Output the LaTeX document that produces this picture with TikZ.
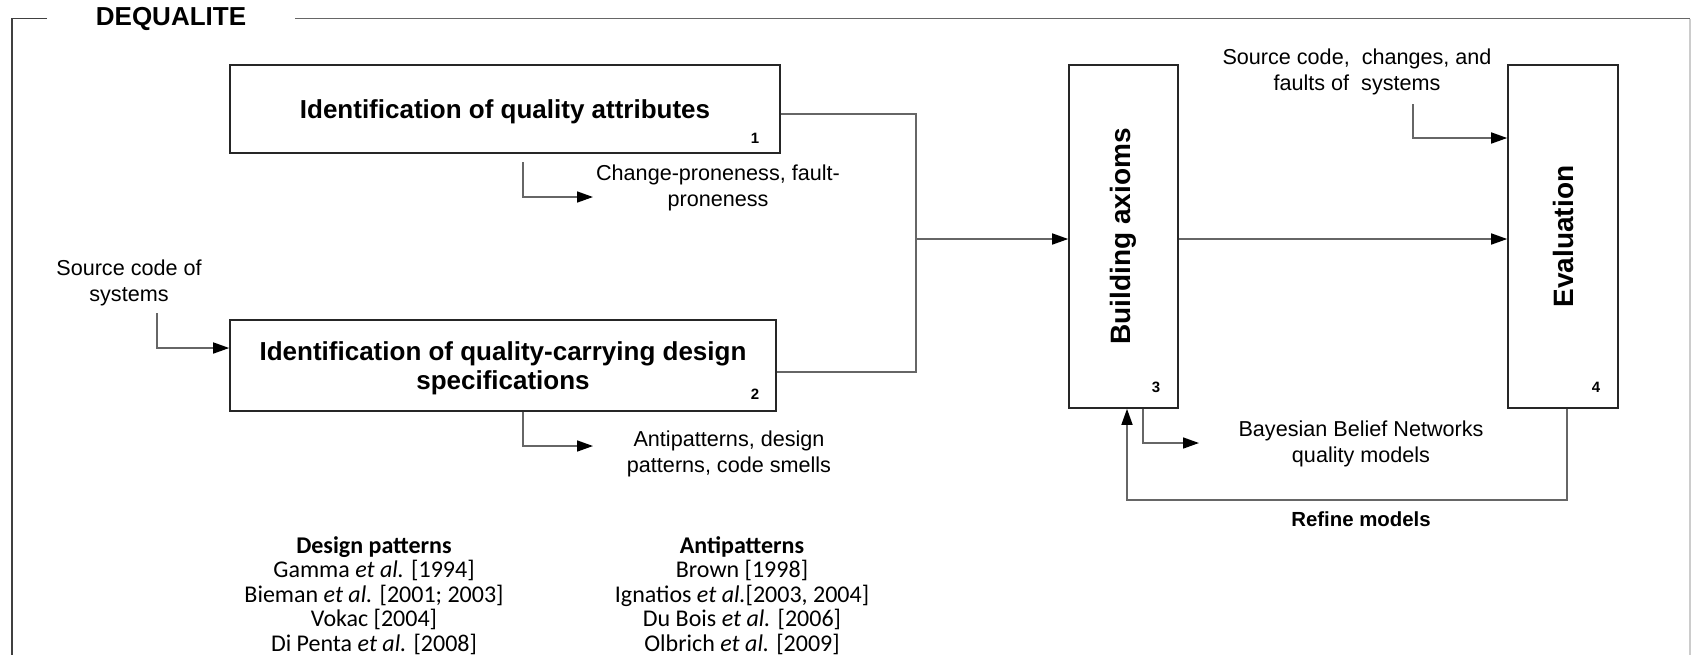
\documentclass[tikz,border=0pt]{standalone}
\usepackage{fontspec}
\setmainfont[Ligatures=NoCommon]{Liberation Sans}
\newfontfamily\calibri{Carlito}
\usetikzlibrary{arrows.meta}
\tikzset{
  box/.style={draw=black!85, line width=0.8pt, inner sep=0pt, align=center},
  boxtext/.style={font=\fontsize{13}{14.5}\selectfont\bfseries, align=center, inner sep=0pt},
  vtext/.style={font=\fontsize{14}{16}\selectfont\bfseries, rotate=90, inner sep=0pt},
  num/.style={font=\fontsize{7.5}{8}\selectfont\bfseries, inner sep=0pt},
  lbl/.style={font=\fontsize{10.8}{13}\selectfont, align=center, inner sep=0pt},
  refs/.style={font=\calibri\fontsize{12}{12.3}\selectfont, align=center, inner sep=0pt},
  link/.style={draw=black!60, line width=0.8pt},
  flow/.style={link, -{Triangle[length=8pt, width=5.5pt, color=black]}},
}
\begin{document}
\begin{tikzpicture}[x=0.5pt, y=-0.5pt]
\useasboundingbox (0,0) rectangle (1691,655);
% frame
\draw[black!75, line width=0.8pt] (47,18.5) -- (12,18.5) -- (12,655);
\draw[black!60, line width=0.8pt] (295,18.5) -- (1690,18.5);
\draw[black!20, line width=0.6pt] (1690,18.5) -- (1690,655);
\node[boxtext] (title) at (171,18.5) {DEQUALITE};

% steps
\node[box, minimum width=275pt, minimum height=44pt] (attr) at (505,109) {};
\node[boxtext] (attrtxt) at ([yshift=-1.5pt]attr.center) {Identification of quality attributes};
\node[box, minimum width=273pt, minimum height=45.5pt] (spec) at (503,365.5) {};
\node[boxtext] (spectxt) at ([yshift=-1.5pt]spec.center) {Identification of quality-carrying design\\specifications};
\node[box, minimum width=54.5pt, minimum height=171.5pt] (axm) at (1123.5,236.5) {};
\node[vtext] (axmtxt) at (axm.center) {Building axioms};
\node[box, minimum width=55pt, minimum height=171.5pt] (eval) at (1563,236.5) {};
\node[vtext] (evaltxt) at (eval.center) {Evaluation};
\node[num] (n1) at (755,138) {1};
\node[num] (n2) at (755,394) {2};
\node[num] (n3) at (1156,387) {3};
\node[num] (n4) at (1596,387) {4};

% inputs and outputs
\node[lbl] (src) at (129,282.5) {Source code of\\systems};
\node[lbl] (cp) at (718,188) {Change-proneness, fault-\\proneness};
\node[lbl] (ap) at (729,454) {Antipatterns, design\\patterns, code smells};
\node[lbl] (hist) at (1357,72) {Source code,~ changes, and\\faults of~ systems};
\node[lbl] (bbn) at (1361,444) {Bayesian Belief Networks\\quality models};
\node[boxtext, font=\fontsize{10.2}{12}\selectfont\bfseries] (refine) at (1361,519) {Refine models};

\coordinate (join) at (916,239);
\coordinate (srcout) at (157,313);
\coordinate (cpin) at (523,162);
\coordinate (cpend) at (593,197);
\coordinate (apend) at (593,446);
\coordinate (histin) at (1413,104);
\coordinate (bbnend) at (1199,443);
\coordinate (loop) at (1345,500);

\draw[link] ([yshift=-2.5pt]attr.east) -| (join) |- ([yshift=-3.25pt]spec.east);
\draw[flow] (join) -- (join -| axm.west);
\draw[flow] (axm.east |- join) -- (eval.west |- join);
\draw[flow] (srcout) |- ([yshift=8.75pt]spec.west);
\draw[flow] (cpin) |- (cpend);
\draw[flow] ([xshift=10pt]spec.south) |- (apend);
\draw[flow] (histin) |- ([yshift=49.25pt]eval.west);
\draw[flow] ([xshift=9.75pt]axm.south) |- (bbnend);
\draw[flow] ([xshift=2pt]eval.south) |- (loop) -| ([xshift=1.75pt]axm.south);

% literature
\node[refs] (dp) at (374,595.5) {\textbf{Design patterns}\\Gamma \textit{et al.} [1994]\\Bieman \textit{et al.} [2001; 2003]\\Vokac [2004]\\Di Penta \textit{et al.} [2008]};
\node[refs] (anti) at (742,595.5) {\textbf{Antipatterns}\\Brown [1998]\\Ignatios \textit{et al.}[2003, 2004]\\Du Bois \textit{et al.} [2006]\\Olbrich \textit{et al.} [2009]};
\end{tikzpicture}
\end{document}
